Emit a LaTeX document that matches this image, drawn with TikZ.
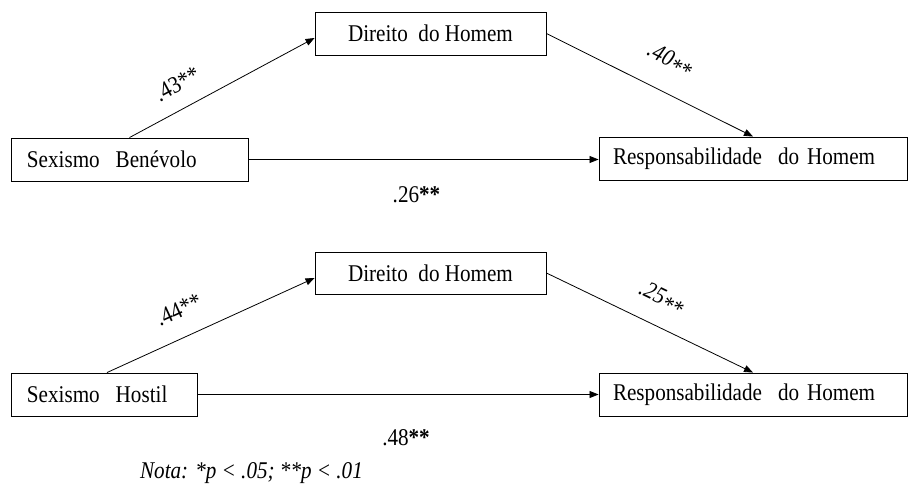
\documentclass[tikz,border=0pt]{standalone}
\usepackage{fontspec}
\setmainfont{Liberation Serif}[FakeStretch=0.88]
\usetikzlibrary{arrows.meta,calc}
\newcommand{\boxfont}{\fontsize{24}{28}\selectfont}
\newcommand{\notefont}{\fontsize{24}{28}\selectfont\itshape}
\begin{document}
\begin{tikzpicture}[x=1pt,y=-1pt,
  box/.style={draw, line width=0.9pt, minimum height=43pt, inner ysep=0pt, font=\boxfont},
  leftbox/.style={box, align=left, inner xsep=16pt},
  arr/.style={line width=0.8pt, -{Triangle[length=9pt,width=7pt]}},
  lab/.style={font=\boxfont, inner xsep=0pt, sloped}]
\path[use as bounding box] (0,0) rectangle (909,486);

% top model
\node[box, minimum width=231pt] (D1) at (430.5,33.5) {Direito\ \ do Homem};
\node[leftbox, text width=205pt] (SB) at (129.5,159.5) {Sexismo\ \ Benévolo};
\node[leftbox, text width=280pt, inner xsep=14pt] (R1) at (753,158.5) {Responsabilidade\ \ do Homem};

\draw[arr] (SB.north) -- node[lab, pos=0.32, above, inner ysep=16pt] {.43**} ([yshift=-4.5pt]D1.west);
\draw[arr] (D1.east) -- node[lab, pos=0.53, above, inner ysep=20pt] {\itshape .40\raisebox{-0.2em}{**}} (R1.north);
\draw[arr] (SB.east) -- node[lab, pos=0.48, below, inner ysep=27pt] {.26\textbf{**}} (SB.east -| R1.west);

% bottom model
\node[box, minimum width=231pt, minimum height=42pt] (D2) at (430.5,273) {Direito\ \ do Homem};
\node[leftbox, text width=154pt] (SH) at (104,394.5) {Sexismo\ \ Hostil};
\node[leftbox, text width=280pt, inner xsep=14pt] (R2) at (753,394.5) {Responsabilidade\ \ do Homem};

\draw[arr] ([xshift=3pt]SH.north) -- node[lab, pos=0.40, above, inner ysep=19pt] {.44**} ([yshift=-5pt]D2.west);
\draw[arr] (D2.east) -- node[lab, pos=0.50, above, inner ysep=16pt] {\itshape .25\raisebox{-0.2em}{**}} (R2.north);
\draw[arr] (SH.east) -- node[lab, pos=0.52, below, inner ysep=35pt] {.48\textbf{**}} (SH.east -| R2.west);

\node[font=\notefont, anchor=base, inner sep=0pt] (nota) at (251.5,478) {Nota: *p < .05; **p < .01};
\end{tikzpicture}
\end{document}
